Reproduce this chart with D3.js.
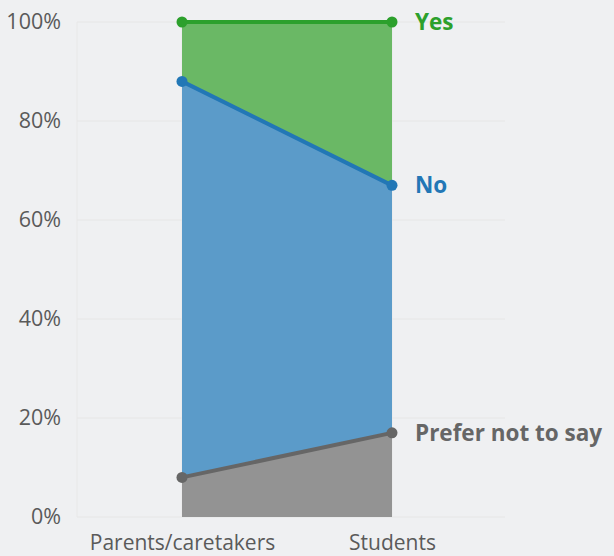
<!DOCTYPE html>
<html><head><meta charset="utf-8">
<script src="https://cdn.jsdelivr.net/npm/d3@7"></script>
<style>
html,body{margin:0;padding:0;background:#eff0f2;}
svg{display:block;font-family:"Open Sans",sans-serif;}
</style></head><body>
<svg id="c" width="614" height="556"></svg>
<script>
const categories = ["Parents/caretakers", "Students"];
const seriesNames = ["Prefer not to say", "No", "Yes"];
const preferNotToSay = [8, 17];
const no = [80, 50];
const yes = [12, 33];
const yTicks = [0, 20, 40, 60, 80, 100];
const colors = {"Prefer not to say": {area: "#939393", line: "#666666"},
                "No": {area: "#5b9bc9", line: "#2277b6"},
                "Yes": {area: "#6ab865", line: "#2ca02c"}};

const svg = d3.select("#c");
const x = d3.scalePoint().domain(categories).range([77, 497]).padding(0.5);
const y = d3.scaleLinear().domain([0, 100]).range([517, 22]);

const rows = categories.map((c, i) => ({cat: c, "Prefer not to say": preferNotToSay[i], "No": no[i], "Yes": yes[i]}));
const stack = d3.stack().keys(seriesNames)(rows);

// gridlines
svg.append("g").selectAll("line").data(yTicks).join("line")
  .attr("x1", 77).attr("x2", 505).attr("y1", d => y(d)).attr("y2", d => y(d))
  .attr("stroke", "#e6e6e6").attr("stroke-width", 1);
svg.append("g").selectAll("line").data([77].concat(categories.map(c => x(c)))).join("line")
  .attr("x1", d => d).attr("x2", d => d).attr("y1", y(100)).attr("y2", y(0))
  .attr("stroke", "#e8e8e8").attr("stroke-width", 1);

// y axis labels
const yAxis = svg.append("g").attr("transform", "translate(61,0)")
  .call(d3.axisLeft(y).tickValues(yTicks).tickFormat(d => d + "%").tickSize(0).tickPadding(0));
yAxis.select(".domain").remove();
yAxis.selectAll("text").attr("font-size", 21.5).attr("fill", "#5a5a5a").attr("font-family", "'Open Sans',sans-serif");

// x axis labels
const xAxis = svg.append("g").attr("transform", "translate(0,531)")
  .call(d3.axisBottom(x).tickSize(0).tickPadding(4));
xAxis.select(".domain").remove();
xAxis.selectAll("text").attr("font-size", 21).attr("fill", "#5a5a5a").attr("font-family", "'Open Sans',sans-serif");

const area = d3.area().x(d => x(d.data.cat)).y0(d => y(d[0])).y1(d => y(d[1]));
const line = d3.line().x(d => x(d.data.cat)).y(d => y(d[1]));

stack.forEach(s => {
  const col = colors[s.key];
  svg.append("path").datum(s).attr("d", area).attr("fill", col.area);
});
stack.forEach(s => {
  const col = colors[s.key];
  svg.append("path").datum(s).attr("d", line).attr("fill", "none")
    .attr("stroke", col.line).attr("stroke-width", 4);
  svg.append("g").selectAll("circle").data(s).join("circle")
    .attr("cx", d => x(d.data.cat)).attr("cy", d => y(d[1])).attr("r", 5.5)
    .attr("fill", col.line);
  const last = s[s.length - 1];
  svg.append("text").attr("x", x(last.data.cat) + 23).attr("y", y(last[1]))
    .attr("dy", "0.35em").attr("font-size", 22.5).attr("font-weight", "bold")
    .attr("fill", col.line).attr("font-family", "'Open Sans',sans-serif").text(s.key);
});
</script></body></html>
